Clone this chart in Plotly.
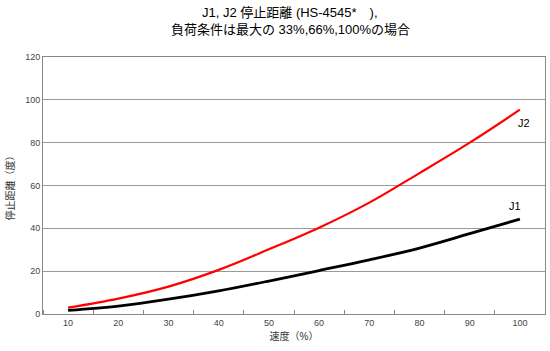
import plotly.graph_objects as go

speed = [10, 20, 30, 40, 50, 60, 70, 80, 90, 100]
j1 = [1.7, 3.7, 6.9, 10.8, 15.4, 20.3, 25.3, 30.8, 37.5, 44.3]
j2 = [3.0, 7.2, 12.8, 20.6, 30.2, 40.3, 52.0, 65.8, 80.0, 95.4]
x_ticks = speed
y_ticks = [0, 20, 40, 60, 80, 100, 120]

FONT = "Liberation Sans, Noto Sans CJK JP, sans-serif"
TITLE1 = "J1, J2 停止距離 (HS-4545*　),"
TITLE2 = "負荷条件は最大の 33%,66%,100%の場合"

fig = go.Figure()
fig.add_trace(go.Scatter(x=speed, y=j2, mode="lines", name="J2",
                         line=dict(color="#ff0000", width=2.2, shape="spline", smoothing=1.0)))
fig.add_trace(go.Scatter(x=speed, y=j1, mode="lines", name="J1",
                         line=dict(color="#000000", width=2.8, shape="spline", smoothing=1.0)))

fig.add_annotation(x=speed[-1], y=j2[-1], text="J2", showarrow=False, xref="x", yref="y",
                   xshift=4, yshift=-13, font=dict(family=FONT, size=11, color="#000"))
fig.add_annotation(x=speed[-1], y=j1[-1], text="J1", showarrow=False, xref="x", yref="y",
                   xshift=-5, yshift=13, font=dict(family=FONT, size=11, color="#000"))

fig.add_annotation(x=290, y=13, xref="paper", yref="paper", text=TITLE1, showarrow=False,
                   font=dict(family=FONT, size=13, color="#000"))
fig.add_annotation(x=290, y=30, xref="paper", yref="paper", text=TITLE2, showarrow=False,
                   font=dict(family=FONT, size=13, color="#000"))

# convert pixel positions of title lines to paper coordinates
W, H = 550, 351
L, R, T, B = 43, 5, 57, 37
pw, ph = W - L - R, H - T - B
for ann in fig.layout.annotations[2:]:
    px, py = ann.x, ann.y
    ann.x = (px - L) / pw
    ann.y = (H - B - py) / ph
    ann.xanchor = "center"
    ann.yanchor = "middle"

fig.update_layout(
    width=W, height=H,
    margin=dict(l=L, r=R, t=T, b=B),
    paper_bgcolor="white", plot_bgcolor="white",
    showlegend=False,
    xaxis=dict(range=[5, 105], tickvals=x_ticks, ticks="", showgrid=False,
               showline=True, linecolor="#888", linewidth=1, mirror=True,
               tickfont=dict(family=FONT, size=9, color="#444"),
               minor=dict(tick0=5, dtick=10, ticks="inside", ticklen=4, tickcolor="#888", showgrid=False),
               title=dict(text="速度（%）", font=dict(family=FONT, size=10, color="#333"), standoff=6),
               zeroline=False),
    yaxis=dict(range=[0, 120], tickvals=y_ticks, ticks="", showgrid=True,
               gridcolor="#999", gridwidth=1,
               showline=True, linecolor="#888", linewidth=1, mirror=True,
               tickfont=dict(family=FONT, size=9, color="#444"),
               title=dict(text="停止距離（度）", font=dict(family=FONT, size=10, color="#333"), standoff=8),
               zeroline=False),
)

fig.write_html("out.html")
